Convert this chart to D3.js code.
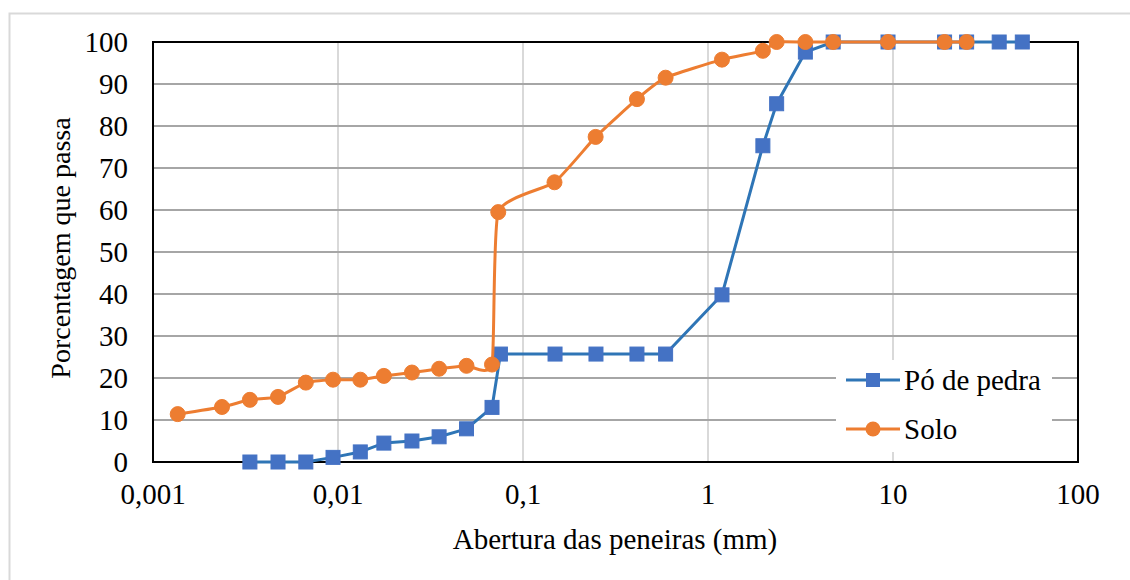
<!DOCTYPE html>
<html>
<head>
<meta charset="utf-8">
<script src="https://cdn.jsdelivr.net/npm/d3@7"></script>
<style>
  body { margin: 0; background: #fff; }
  svg text { font-family: "Liberation Serif", "Times New Roman", serif !important; }
</style>
</head>
<body>
<div id="chart"></div>
<script>
// Sieve openings (mm) and percent passing
const poX = [0.00334, 0.00474, 0.0067, 0.0094, 0.0132, 0.0177, 0.0251, 0.0352, 0.0495, 0.068, 0.0755,
  0.149, 0.248, 0.413, 0.59, 1.19, 1.98, 2.35, 3.36, 4.75, 9.4, 19, 25, 37.5, 50];
const poY = [0, 0, 0, 1.1, 2.4, 4.5, 5, 6, 7.9, 13, 25.7,
  25.7, 25.7, 25.7, 25.7, 39.8, 75.3, 85.3, 97.6, 100, 100, 100, 100, 100, 100];

const soloX = [0.00136, 0.00236, 0.00334, 0.00474, 0.0067, 0.0094, 0.0132, 0.0177, 0.0251, 0.0352, 0.0495, 0.068,
  0.0735, 0.148, 0.247, 0.413, 0.59, 1.19, 1.98, 2.35, 3.36, 4.75, 9.4, 19, 25];
const soloY = [11.4, 13.1, 14.8, 15.5, 18.9, 19.6, 19.6, 20.5, 21.3, 22.2, 22.9, 23.2,
  59.5, 66.6, 77.4, 86.4, 91.5, 95.8, 97.9, 100, 100, 100, 100, 100, 100];

const xTicks = [0.001, 0.01, 0.1, 1, 10, 100];
const xTickLabels = ["0,001", "0,01", "0,1", "1", "10", "100"];
const yTicks = [0, 10, 20, 30, 40, 50, 60, 70, 80, 90, 100];

const W = 1130, H = 580;
const plot = { left: 153, right: 1078, top: 42, bottom: 462 };
const serif = "Liberation Serif";

const svg = d3.select("#chart").append("svg")
  .attr("width", W).attr("height", H);

function label(sel) {
  return sel.attr("font-family", serif)
    .style("font-family", "'Liberation Serif', serif", "important")
    .attr("font-size", 29).attr("fill", "#000");
}

// outer chart border
svg.append("rect")
  .attr("x", 9.5).attr("y", 13.5)
  .attr("width", W + 10).attr("height", H + 10)
  .attr("fill", "none").attr("stroke", "#d9d9d9").attr("stroke-width", 2);

const x = d3.scaleLog().domain([0.001, 100]).range([plot.left, plot.right]);
const y = d3.scaleLinear().domain([0, 100]).range([plot.bottom, plot.top]);

// vertical gridlines
svg.append("g").selectAll("line")
  .data(xTicks.slice(1, -1))
  .join("line")
  .attr("x1", d => x(d)).attr("x2", d => x(d))
  .attr("y1", plot.top).attr("y2", plot.bottom)
  .attr("stroke", "#d9d9d9").attr("stroke-width", 2);

// horizontal gridlines
svg.append("g").selectAll("line")
  .data(yTicks.slice(1, -1))
  .join("line")
  .attr("x1", plot.left).attr("x2", plot.right)
  .attr("y1", d => y(d)).attr("y2", d => y(d))
  .attr("stroke", "#a6a6a6").attr("stroke-width", 2);

// legend background (covers gridlines)
const legend = svg.append("g");
legend.append("rect")
  .attr("x", 836).attr("y", 360).attr("width", 216).attr("height", 92)
  .attr("fill", "#fff");

// plot border
svg.append("rect")
  .attr("x", plot.left).attr("y", plot.top)
  .attr("width", plot.right - plot.left).attr("height", plot.bottom - plot.top)
  .attr("fill", "none").attr("stroke", "#000").attr("stroke-width", 2);

// axes labels
svg.append("g").selectAll("text")
  .data(yTicks)
  .join("text")
  .attr("x", 128).attr("y", d => y(d) + 10)
  .attr("text-anchor", "end")
  .call(label)
  .text(d => d);

svg.append("g").selectAll("text")
  .data(xTicks)
  .join("text")
  .attr("x", d => x(d)).attr("y", 504)
  .attr("text-anchor", "middle")
  .call(label)
  .text((d, i) => xTickLabels[i]);

svg.append("text")
  .attr("x", 615).attr("y", 549)
  .attr("text-anchor", "middle")
  .call(label)
  .text("Abertura das peneiras (mm)");

svg.append("text")
  .attr("transform", "translate(70,248) rotate(-90)")
  .attr("text-anchor", "middle")
  .call(label).attr("font-size", 28)
  .text("Porcentagem que passa");

// series
const blue = "#2E75B6", blueFill = "#4472C4", orange = "#ED7D31";
const poData = poX.map((v, i) => [v, poY[i]]);
const soloData = soloX.map((v, i) => [v, soloY[i]]);

const linePo = d3.line().x(d => x(d[0])).y(d => y(d[1]));
const lineSolo = d3.line().x(d => x(d[0])).y(d => y(d[1])).curve(d3.curveCardinal.tension(0.5));

svg.append("path").datum(poData)
  .attr("d", linePo).attr("fill", "none")
  .attr("stroke", blue).attr("stroke-width", 3).attr("stroke-linejoin", "round");

svg.append("g").selectAll("rect")
  .data(poData)
  .join("rect")
  .attr("x", d => x(d[0]) - 7).attr("y", d => y(d[1]) - 7)
  .attr("width", 14).attr("height", 14)
  .attr("fill", blueFill).attr("stroke", blueFill).attr("stroke-width", 1);

svg.append("path").datum(soloData)
  .attr("d", lineSolo).attr("fill", "none")
  .attr("stroke", orange).attr("stroke-width", 3).attr("stroke-linejoin", "round");

svg.append("g").selectAll("circle")
  .data(soloData)
  .join("circle")
  .attr("cx", d => x(d[0])).attr("cy", d => y(d[1]))
  .attr("r", 7.5)
  .attr("fill", orange).attr("stroke", orange).attr("stroke-width", 1);

// legend entries
const items = [
  { name: "Pó de pedra", color: blue, fill: blueFill, shape: "square", y: 380 },
  { name: "Solo", color: orange, fill: orange, shape: "circle", y: 429 }
];
items.forEach(it => {
  legend.append("line")
    .attr("x1", 846).attr("x2", 900).attr("y1", it.y).attr("y2", it.y)
    .attr("stroke", it.color).attr("stroke-width", 3);
  if (it.shape === "square") {
    legend.append("rect").attr("x", 866).attr("y", it.y - 7)
      .attr("width", 14).attr("height", 14).attr("fill", it.fill);
  } else {
    legend.append("circle").attr("cx", 873).attr("cy", it.y).attr("r", 7.5).attr("fill", it.fill);
  }
  legend.append("text")
    .attr("x", 904).attr("y", it.y + 10)
    .call(label)
    .text(it.name);
});
</script>
</body>
</html>
